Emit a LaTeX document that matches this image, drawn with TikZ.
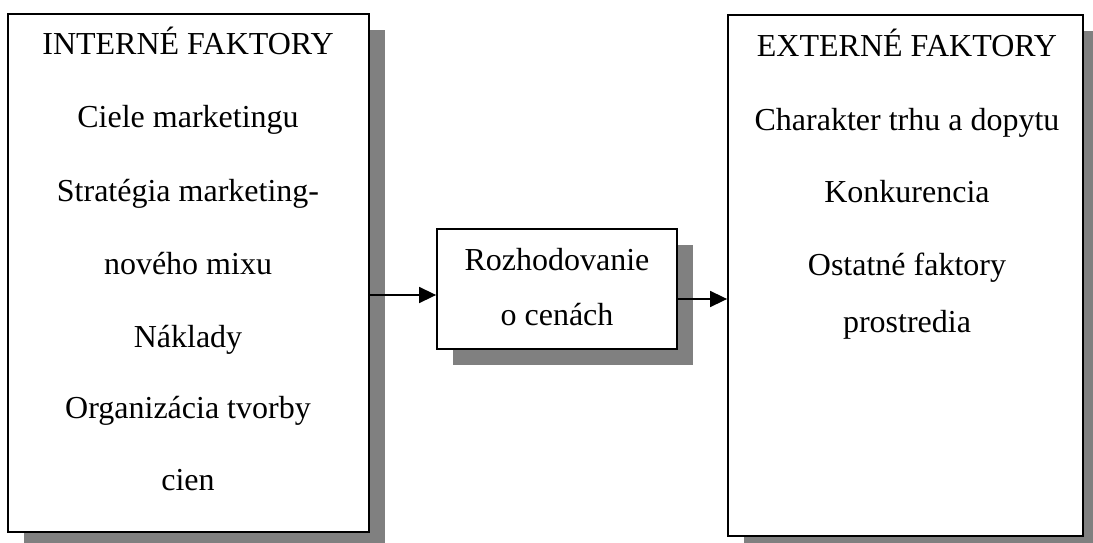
\documentclass[tikz,border=0pt]{standalone}
\usepackage{fontspec}
\setmainfont{Liberation Serif}
\usetikzlibrary{arrows.meta,shadows}
\begin{document}
\begin{tikzpicture}[x=1pt,y=1pt,
  box/.style={draw=black,line width=1.8pt,fill=white,inner sep=0pt,
    drop shadow={shadow xshift=16pt,shadow yshift=-16pt,fill=black!50,opacity=1}},
  txt/.style={anchor=base,inner sep=0pt,font=\fontsize{32}{37}\selectfont},
  arr/.style={line width=1.6pt,-{Triangle[length=17pt,width=16pt]}}]
\useasboundingbox (0,0) rectangle (1093,-543);
\clip (0,0) rectangle (1093,-543);
% boxes
\node[box,minimum width=361pt,minimum height=518pt] (L) at (188.5,-273) {};
\node[box,minimum width=240pt,minimum height=120pt] (M) at (557,-289) {};
\node[box,minimum width=355pt,minimum height=521pt] (R) at (905.5,-275.5) {};
% left texts
\node[txt] (l1) at (188,-55) {INTERNÉ FAKTORY};
\node[txt] (l2) at (188,-128) {Ciele marketingu};
\node[txt] (l3) at (188,-201) {Stratégia marketing-};
\node[txt] (l4) at (188,-274) {nového mixu};
\node[txt] (l5) at (188,-347) {Náklady};
\node[txt] (l6) at (188,-418) {Organizácia tvorby};
\node[txt] (l7) at (188,-490) {cien};
% middle texts
\node[txt] (m1) at (557,-270) {Rozhodovanie};
\node[txt] (m2) at (557,-325) {o cenách};
% right texts
\node[txt] (r1) at (907,-57) {EXTERNÉ FAKTORY};
\node[txt] (r2) at (907,-130) {Charakter trhu a dopytu};
\node[txt] (r3) at (907,-202) {Konkurencia};
\node[txt] (r4) at (907,-275) {Ostatné faktory};
\node[txt] (r5) at (907,-332) {prostredia};
% arrows
\draw[arr] (L.east |- 0,-295) -- (M.west |- 0,-295);
\draw[arr] (M.east |- 0,-299) -- (R.west |- 0,-299);
\end{tikzpicture}
\end{document}
